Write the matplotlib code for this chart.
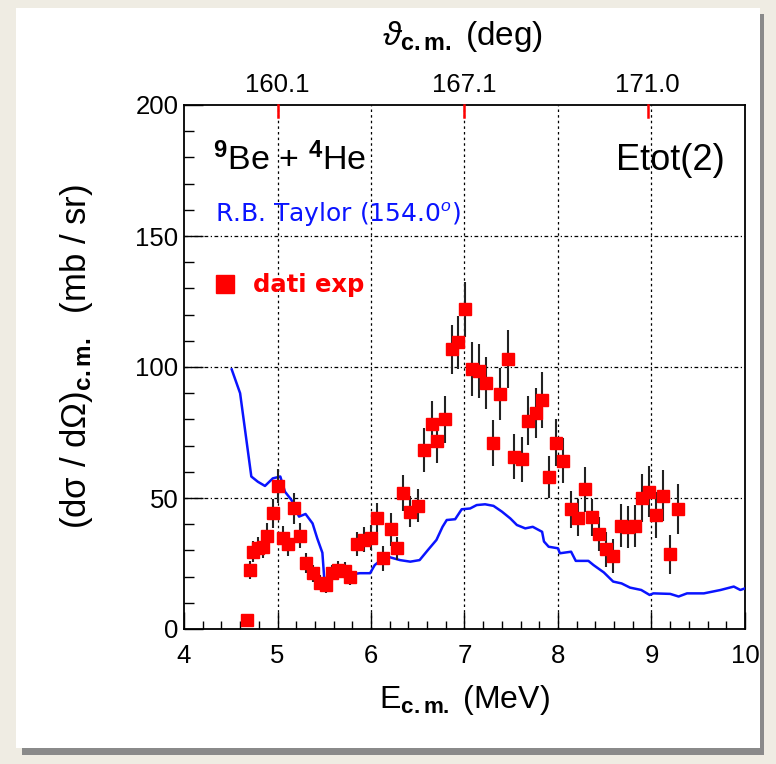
import matplotlib
matplotlib.use("Agg")
import matplotlib.pyplot as plt
from matplotlib.patches import Rectangle
from matplotlib.ticker import MultipleLocator

plt.rcParams['font.family'] = ['Liberation Sans', 'DejaVu Sans']
plt.rcParams['mathtext.fontset'] = 'custom'
plt.rcParams['mathtext.rm'] = 'Liberation Sans'
plt.rcParams['mathtext.it'] = 'Liberation Sans:italic'
plt.rcParams['mathtext.bf'] = 'Liberation Sans:bold'

# Experimental data (E_cm in MeV, cross section mb/sr, error)
exp_E = [4.67, 4.706, 4.74, 4.79, 4.84, 4.89, 4.95, 5.00, 5.055, 5.115, 5.18, 5.24,
         5.31, 5.375, 5.45, 5.515, 5.58, 5.65, 5.72, 5.78, 5.845, 5.92, 6.00, 6.06,
         6.13, 6.21, 6.28, 6.345, 6.42, 6.50, 6.57, 6.65, 6.71, 6.79, 6.87, 6.935,
         7.01, 7.085, 7.155, 7.225, 7.31, 7.385, 7.46, 7.53, 7.61, 7.68, 7.76, 7.83,
         7.90, 7.98, 8.055, 8.14, 8.21, 8.29, 8.36, 8.44, 8.51, 8.585, 8.67, 8.745,
         8.82, 8.895, 8.975, 9.05, 9.125, 9.20, 9.28]
exp_V = [3.5, 22.5, 29.5, 30.8, 31.4, 35.6, 44.2, 54.6, 34.6, 32.3, 46.0, 35.6,
         25.3, 21.3, 17.7, 16.8, 21.3, 22.5, 22.3, 20.0, 32.3, 34.0, 34.9, 42.2,
         27.0, 38.0, 30.8, 51.8, 44.8, 47.1, 68.3, 78.2, 71.9, 80.0, 106.7, 109.4,
         122.0, 99.1, 98.6, 94.0, 71.1, 89.6, 103.0, 65.8, 64.8, 79.5, 82.3, 87.4,
         57.9, 71.1, 64.2, 45.7, 42.5, 53.3, 42.6, 36.3, 30.4, 28.0, 39.5, 38.8,
         39.3, 49.9, 52.4, 43.5, 50.9, 28.5, 45.8]
exp_err = [0.5, 3.5, 4.0, 4.2, 4.3, 4.8, 5.5, 6.5, 4.8, 4.6, 5.8, 4.8,
           3.8, 3.3, 3.0, 2.9, 3.3, 3.5, 3.4, 3.2, 4.6, 4.8, 4.9, 5.8,
           4.7, 6.2, 4.5, 6.8, 6.0, 6.3, 8.3, 9.0, 8.5, 9.0, 9.5, 10.0,
           10.5, 10.3, 10.3, 10.0, 8.8, 10.0, 11.2, 8.6, 8.6, 9.3, 9.5, 10.7,
           8.0, 9.0, 8.6, 7.0, 7.0, 8.7, 7.0, 6.5, 6.8, 6.5, 8.1, 8.0,
           8.0, 9.2, 9.7, 8.6, 9.7, 7.5, 9.5]

# R.B. Taylor curve
th_E = [4.51, 4.60, 4.72, 4.79, 4.866, 4.95, 5.03, 5.08, 5.15, 5.23, 5.30, 5.375,
        5.425, 5.48, 5.50, 5.56, 5.65, 5.74, 5.88, 5.99, 6.04, 6.13, 6.20, 6.31,
        6.42, 6.52, 6.61, 6.70, 6.765, 6.81, 6.90, 6.97, 7.06, 7.13, 7.22, 7.31,
        7.40, 7.49, 7.56, 7.65, 7.73, 7.83, 7.85, 7.90, 8.00, 8.02, 8.14, 8.19,
        8.325, 8.38, 8.49, 8.59, 8.68, 8.77, 8.89, 8.98, 9.02, 9.20, 9.29, 9.38,
        9.56, 9.74, 9.88, 9.95, 10.0]
th_V = [99.1, 90.0, 58.2, 56.2, 54.6, 57.5, 58.2, 52.4, 49.2, 42.9, 43.9, 40.3,
        34.6, 29.1, 19.3, 19.7, 21.3, 20.6, 21.3, 21.3, 24.4, 27.0, 27.4, 26.3,
        25.7, 26.3, 30.2, 34.0, 39.0, 41.6, 41.9, 45.7, 46.0, 47.3, 47.6, 47.0,
        44.8, 42.2, 39.7, 38.4, 39.0, 37.1, 33.4, 31.4, 30.8, 28.9, 29.5, 26.0,
        26.0, 24.4, 21.6, 18.1, 17.4, 15.8, 14.9, 13.0, 13.6, 13.4, 12.4, 13.6,
        13.6, 14.9, 16.2, 14.9, 15.5]

top_tick_E = [5.0, 7.0, 8.96]
top_tick_labels = ['160.1', '167.1', '171.0']

W, H = 776, 764
fig = plt.figure(figsize=(W / 100, H / 100), dpi=100)
fig.patch.set_facecolor('#efece3')
# shadow + white panel
fig.patches.append(Rectangle((22 / W, 1 - 755 / H), (764 - 22) / W, (755 - 14) / H,
                             transform=fig.transFigure, facecolor='#8a8a8a',
                             edgecolor='none', zorder=-2))
fig.patches.append(Rectangle((16 / W, 1 - 748 / H), (760 - 16) / W, (748 - 8) / H,
                             transform=fig.transFigure, facecolor='white',
                             edgecolor='none', zorder=-1))

ax = fig.add_axes([184 / W, 1 - 629 / H, (745 - 184) / W, (629 - 105) / H])
ax.set_facecolor('white')
ax.set_xlim(4, 10)
ax.set_ylim(0, 200)

# grid
for x in [5, 6, 7, 8, 9]:
    ax.axvline(x, color='black', lw=0.9, ls=(0, (2, 2.5)), zorder=1)
for y in [50, 100, 150]:
    ax.axhline(y, color='black', lw=0.9, ls=(0, (3, 2, 1, 2)), zorder=1)

ax.plot(th_E, th_V, color='#0a14ff', lw=1.8, zorder=3)
ax.errorbar(exp_E, exp_V, yerr=exp_err, fmt='none', ecolor='#222222',
            elinewidth=1.5, capsize=0, zorder=4)
ax.plot(exp_E, exp_V, 's', color='#ff0000', ms=8.8, mec='#ff0000', zorder=5)

ax.xaxis.set_major_locator(MultipleLocator(1))
ax.xaxis.set_minor_locator(MultipleLocator(0.2))
ax.yaxis.set_major_locator(MultipleLocator(50))
ax.yaxis.set_minor_locator(MultipleLocator(10))
ax.tick_params(axis='both', which='both', direction='in', top=False, right=False)
ax.tick_params(axis='x', which='major', length=12, width=1, labelsize=18.5, pad=11)
ax.tick_params(axis='x', which='minor', length=6, width=1)
ax.tick_params(axis='y', which='major', length=14, width=1, labelsize=18.5, pad=4)
ax.tick_params(axis='y', which='minor', length=7, width=1)
for s in ax.spines.values():
    s.set_linewidth(1.3)

ax.set_xlabel(r'E$_{\mathbf{c.m.}}$ (MeV)', fontsize=23)
ax.xaxis.set_label_coords(0.5, -(708 - 629) / 524, transform=ax.transAxes)
ax.xaxis.label.set_va('baseline')
ax.set_ylabel('(d\u03c3 / d\u03a9)$_{\\mathbf{c.m.}}$  (mb / sr)', fontsize=25)
ax.yaxis.set_label_coords(-(184 - 76) / 561, (629 - 357) / 524, transform=ax.transAxes)
ax.yaxis.label.set_va('center')

# top axis (theta)
for e, lab in zip(top_tick_E, top_tick_labels):
    ax.plot([e, e], [200, 195.5], color='red', lw=1.8, clip_on=False, zorder=6)
    ax.text(e, 203.0, lab, ha='center', va='bottom', fontsize=18.5)
ax.text(6.98, 219.5, r'$\vartheta_{\mathbf{c.m.}}$ (deg)', ha='center', va='bottom', fontsize=24)

ax.text(4.31, 175.2, r'$^{\mathbf{9}}$Be + $^{\mathbf{4}}$He', fontsize=24.5, va='baseline')
ax.text(9.786, 175.2, 'Etot(2)', fontsize=26, va='baseline', ha='right')
ax.text(4.33, 155.5, 'R.B. Taylor (154.0$^{o}$)', fontsize=18, color='#0a14ff', va='baseline',
        family=['DejaVu Sans'])
ax.plot([4.44], [131.7], 's', color='#ff0000', ms=12.3)
ax.text(4.74, 128.7, 'dati exp', fontsize=17.5, color='#ff0000', fontweight='bold',
        va='baseline', family=['DejaVu Sans'])

fig.savefig('out.png', dpi=100, facecolor=fig.get_facecolor())
